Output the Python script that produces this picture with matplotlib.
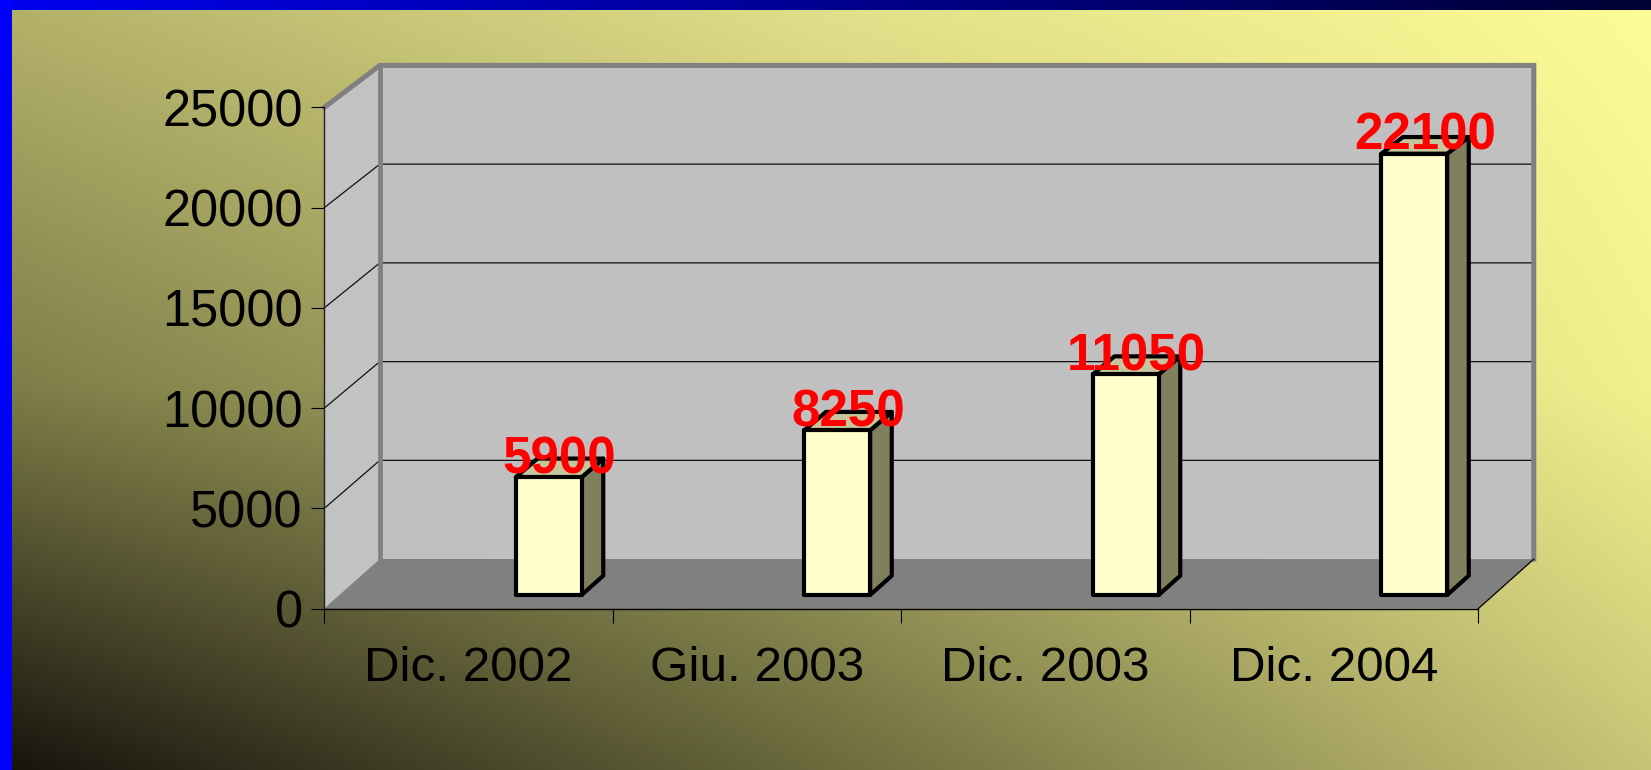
import numpy as np
import matplotlib
matplotlib.use('Agg')
import matplotlib.pyplot as plt
from matplotlib.patches import Polygon, Rectangle


categories = ['Dic. 2002', 'Giu. 2003', 'Dic. 2003', 'Dic. 2004']
values = [5900, 8250, 11050, 22100]
y_ticks = [0, 5000, 10000, 15000, 20000, 25000]
y_max = 25000

W, H = 1651, 770
plt.rcParams['font.family'] = ['Liberation Sans', 'DejaVu Sans']

fig = plt.figure(figsize=(W / 100, H / 100), dpi=100)

#Background gradient, dark in the lower left corner and yellow in the upper right
#colours at a 3x3 grid of points (rows from bottom to top, columns left to right)
grid_pos = [0.0, 0.5, 1.0]
grid_col = np.array([
    [[22, 19, 13], [106, 106, 61], [200, 196, 118]],
    [[125, 125, 72], [182, 180, 106], [243, 241, 142]],
    [[180, 178, 106], [226, 224, 138], [253, 252, 150]],
], dtype=float)

nx, ny = 400, 200
xs = np.linspace(0, 1, nx)
ys = np.linspace(0, 1, ny)
rows = np.zeros((3, nx, 3))
for j in range(3):
    for c in range(3):
        rows[j, :, c] = np.interp(xs, grid_pos, grid_col[j, :, c])
img = np.zeros((ny, nx, 3))
for i in range(nx):
    for c in range(3):
        img[:, i, c] = np.interp(ys, grid_pos, rows[:, i, c])
img = img / 255.0

bg = fig.add_axes([0, 0, 1, 1])
bg.set_axis_off()
bg.imshow(img, extent=(0, 1, 0, 1), origin='lower', aspect='auto', interpolation='bilinear')

#Blue band on top (blue to navy) and on the left
band = np.linspace(0, 1, 300)
band_img = np.zeros((1, 300, 3))
band_img[0, :, 2] = (240 - 190 * band) / 255.0
bg.imshow(band_img, extent=(0, 1, 1 - 10 / H, 1), origin='lower', aspect='auto', interpolation='bilinear')
bg.add_patch(Rectangle((0, 0), 12 / W, 1, color='#0000ff', lw=0))
bg.set_xlim(0, 1)
bg.set_ylim(0, 1)

#Front plane of the chart
ax = fig.add_axes([324.3 / W, 1 - 608.6 / H, 1154 / W, 501.2 / H])
ax.patch.set_visible(False)
ax.set_xlim(0, 4)
ax.set_ylim(0, y_max)

#Depth of the 3d box
DX = 55.5 / 288.5
DV = 2469
K = 0.015


def proj(x, v, d):
    return (x + d * DX, v * (1 - d * K) + d * DV)


def poly(points, **kw):
    ax.add_patch(Polygon([proj(*p) for p in points], closed=True, clip_on=False, **kw))


def line(points, **kw):
    pts = np.array([proj(*p) for p in points])
    ax.plot(pts[:, 0], pts[:, 1], clip_on=False, **kw)


#Floor and walls
poly([(0, 0, 0), (4, 0, 0), (4, 0, 1), (0, 0, 1)], facecolor='#808080', lw=0, zorder=0.5)
poly([(0, 0, 1), (4, 0, 1), (4, y_max, 1), (0, y_max, 1)], facecolor='#c0c0c0', lw=0, zorder=0.5)
poly([(0, 0, 0), (0, 0, 1), (0, y_max, 1), (0, y_max, 0)], facecolor='#c2c2c2', lw=0, zorder=0.5)

for t in y_ticks[1:-1]:
    line([(0, t, 0), (0, t, 1), (4, t, 1)], color='#111111', lw=0.9, zorder=0.8)

line([(0, y_max, 0), (0, y_max, 1), (4, y_max, 1), (4, 0, 1)], color='#808080', lw=3.6,
     solid_joinstyle='miter', zorder=0.9)
line([(0, 0, 1), (0, y_max, 1)], color='#808080', lw=3.4, zorder=0.9)
line([(4, 0, 0), (4, 0, 1)], color='black', lw=0.9, zorder=0.9)

#Bars
d1, d2 = 0.275, 0.665
bar_w = 0.228
for i, v in enumerate(values):
    x0 = i + 0.611
    x1 = x0 + bar_w
    style = dict(edgecolor='black', lw=3.0, joinstyle='round', zorder=3)
    poly([(x1, 0, d1), (x1, 0, d2), (x1, v, d2), (x1, v, d1)], facecolor='#80805f', **style)
    poly([(x0, v, d1), (x1, v, d1), (x1, v, d2), (x0, v, d2)], facecolor='#c6c69e', **style)
    poly([(x0, 0, d1), (x1, 0, d1), (x1, v, d1), (x0, v, d1)], facecolor='#ffffcc', **style)
    lx = proj(x0 + bar_w / 2, v, (d1 + d2) / 2)[0]
    ly = proj(x0, v, d1)[1] + 200
    ax.text(lx, ly, f'{v}', color='#ff0000', fontsize=36.8, fontweight='bold',
            ha='center', va='baseline', zorder=5, clip_on=False)

#Axes, ticks and labels
for s in ['top', 'right']:
    ax.spines[s].set_visible(False)
ax.spines['left'].set_color('#202020')
ax.spines['bottom'].set_color('black')
ax.spines['left'].set_linewidth(1.0)
ax.spines['bottom'].set_linewidth(1.0)

ax.set_yticks(y_ticks)
ax.set_yticklabels([str(t) for t in y_ticks])
ax.set_xticks(range(5))
ax.set_xticklabels([])
ax.set_xticks([i + 0.5 for i in range(4)], minor=True)
ax.set_xticklabels(categories, minor=True)
ax.tick_params(axis='y', direction='out', length=9.5, width=0.8, pad=6, labelsize=36.4, colors='black')
ax.tick_params(axis='x', which='major', direction='out', length=10, width=0.8)
ax.tick_params(axis='x', which='minor', length=0, pad=27, labelsize=35.6)

fig.savefig('out.png', dpi=100)
